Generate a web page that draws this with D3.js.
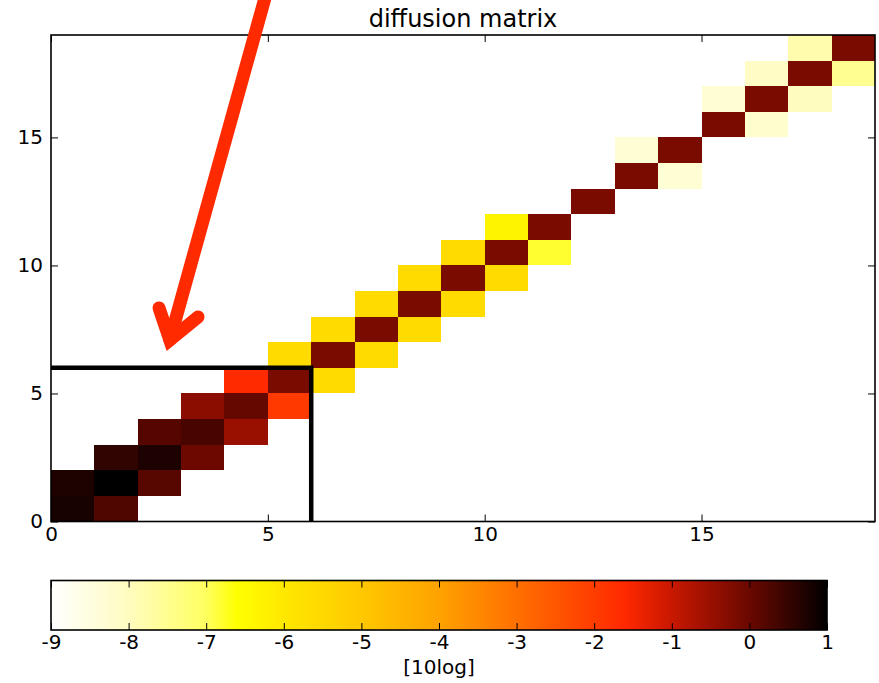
<!DOCTYPE html>
<html>
<head>
<meta charset="utf-8">
<script src="https://cdn.jsdelivr.net/npm/d3@7"></script>
<style>
    body { margin: 0; background: #fff; }
    svg text { font-family: "DejaVu Sans", sans-serif; fill: #000; }
</style>
</head>
<body>
<svg id="chart-svg"></svg>
<script>
// Datos (10log de la matriz tridiagonal).

// diagonal: fila i, columna i
const DIAGONAL = [0.77, 1.0, 0.74, 0.32, 0.05, -0.17, -0.17, -0.17, -0.17, -0.17,
                  -0.17, -0.17, -0.17, -0.17, -0.17, -0.17, -0.17, -0.17, -0.17];
// encima: fila i, columna i+1 (null = vacio)
const UPPER = [0.25, 0.18, -0.03, -0.5, -1.95, -5.6, -5.6, -5.6, -5.6, -5.6,
               -6.8, null, null, -8.3, null, -8.2, -8.0, -7.5];
// debajo: fila i+1, columna i
const LOWER = [0.72, 0.55, 0.2, -0.34, -1.65, -5.6, -5.6, -5.6, -5.6, -5.6,
               -6.3, null, null, -8.3, null, -8.3, -8.1, -7.8];

const N = 19;
const X_TICKS = [0, 5, 10, 15];
const Y_TICKS = [0, 5, 10, 15];
const CBAR_DOMAIN = [-9, 1];
const CBAR_TICKS = [-9, -8, -7, -6, -5, -4, -3, -2, -1, 0, 1];

const CMAP_STOPS = [-9, -8, -7, -6.6, -6, -5, -4, -3, -2, -1.6, -1, 0, 1];
const CMAP_COLORS = ["#ffffff", "#fffcc0", "#ffff60", "#ffff00", "#ffe800", "#ffc800",
                     "#ffa200", "#ff7000", "#ff3c00", "#ff2800", "#c81800", "#6a0800", "#000000"];

// Anotaciones (coordenadas de datos).
const BOX_EDGE = [[0, 6], [6, 6], [6, 0]];
const ARROW_SHAFT = [[4.96, 20.6], [2.74, 7.09]];
const ARROW_HEAD = [[2.49, 8.34], [2.74, 7.09], [3.39, 7.99]];

// Configuracion.
const WIDTH = 879;
const HEIGHT = 683;
const PLOT = { left: 51, right: 875, top: 35, bottom: 521.5 };
const CBAR = { left: 51, right: 827, top: 580.5, bottom: 630 };
const TICK = 7;

const svg = d3.select('svg#chart-svg')
                .attr('width', WIDTH)
                .attr('height', HEIGHT);

const x = d3.scaleLinear().domain([0, N]).range([PLOT.left, PLOT.right]);
const y = d3.scaleLinear().domain([0, N]).range([PLOT.bottom, PLOT.top]);

const color = d3.scaleLinear()
                .domain(CMAP_STOPS)
                .range(CMAP_COLORS)
                .interpolate(d3.interpolateRgb)
                .clamp(true);

// Celdas.
const cells = [];
DIAGONAL.forEach((v, i) => cells.push({ row: i, col: i, value: v }));
UPPER.forEach((v, i) => { if (v !== null) cells.push({ row: i, col: i + 1, value: v }); });
LOWER.forEach((v, i) => { if (v !== null) cells.push({ row: i + 1, col: i, value: v }); });

svg.append('defs')
    .append('clipPath')
        .attr('id', 'plot-clip')
    .append('rect')
        .attr('x', PLOT.left)
        .attr('y', PLOT.top)
        .attr('width', PLOT.right - PLOT.left)
        .attr('height', PLOT.bottom - PLOT.top);

const plot = svg.append('g').attr('id', 'plot');

plot.selectAll('rect.cell')
    .data(cells)
    .join('rect')
        .attr('class', 'cell')
        .attr('x', d => x(d.col))
        .attr('y', d => y(d.row + 1))
        .attr('width', d => x(d.col + 1) - x(d.col))
        .attr('height', d => y(d.row) - y(d.row + 1))
        .attr('fill', d => color(d.value))
        .attr('shape-rendering', 'crispEdges');

const line = d3.line().x(d => x(d[0])).y(d => y(d[1]));

// Recuadro negro (solo lados superior y derecho visibles).
plot.append('path')
    .attr('clip-path', 'url(#plot-clip)')
    .attr('d', line(BOX_EDGE))
    .attr('fill', 'none')
    .attr('stroke', '#000')
    .attr('stroke-width', 4.5)
    .attr('stroke-linejoin', 'miter');

// Ejes.
const styleAxis = (g) => {
    g.select('.domain').remove();
    g.selectAll('.tick line').attr('stroke', '#000').attr('stroke-width', 1);
    g.selectAll('.tick text').attr('font-size', 20).attr('fill', '#000');
};

svg.append('g')
    .attr('transform', `translate(0, ${PLOT.bottom})`)
    .call(d3.axisBottom(x).tickValues(X_TICKS).tickSize(-TICK).tickPadding(5))
    .call(styleAxis);

svg.append('g')
    .attr('transform', `translate(0, ${PLOT.top})`)
    .call(d3.axisTop(x).tickValues(X_TICKS).tickSize(-TICK).tickFormat(''))
    .call(styleAxis);

svg.append('g')
    .attr('transform', `translate(${PLOT.left}, 0)`)
    .call(d3.axisLeft(y).tickValues(Y_TICKS).tickSize(-TICK).tickPadding(8))
    .call(styleAxis);

svg.append('g')
    .attr('transform', `translate(${PLOT.right}, 0)`)
    .call(d3.axisRight(y).tickValues(Y_TICKS).tickSize(-TICK).tickFormat(''))
    .call(styleAxis);

svg.append('rect')
    .attr('x', PLOT.left)
    .attr('y', PLOT.top)
    .attr('width', PLOT.right - PLOT.left)
    .attr('height', PLOT.bottom - PLOT.top)
    .attr('fill', 'none')
    .attr('stroke', '#000')
    .attr('stroke-width', 1.6);

svg.append('text')
    .attr('x', (PLOT.left + PLOT.right) / 2)
    .attr('y', 27)
    .attr('text-anchor', 'middle')
    .attr('font-size', 24)
    .text('diffusion matrix');

// Flecha roja.
svg.append('path')
    .attr('d', line(ARROW_SHAFT))
    .attr('fill', 'none')
    .attr('stroke', '#ff2a00')
    .attr('stroke-width', 13)
    .attr('stroke-linecap', 'round');

svg.append('path')
    .attr('d', line(ARROW_HEAD))
    .attr('fill', 'none')
    .attr('stroke', '#ff2a00')
    .attr('stroke-width', 13)
    .attr('stroke-linecap', 'round')
    .attr('stroke-linejoin', 'miter')
    .attr('stroke-miterlimit', 10);

// Barra de colores.
const cx = d3.scaleLinear().domain(CBAR_DOMAIN).range([CBAR.left, CBAR.right]);

const grad = svg.select('defs')
                .append('linearGradient')
                    .attr('id', 'cbar-grad')
                    .attr('x1', '0%').attr('x2', '100%')
                    .attr('y1', '0%').attr('y2', '0%');

grad.selectAll('stop')
    .data(CMAP_STOPS)
    .join('stop')
        .attr('offset', d => (d - CBAR_DOMAIN[0]) / (CBAR_DOMAIN[1] - CBAR_DOMAIN[0]))
        .attr('stop-color', d => color(d));

svg.append('rect')
    .attr('x', CBAR.left)
    .attr('y', CBAR.top)
    .attr('width', CBAR.right - CBAR.left)
    .attr('height', CBAR.bottom - CBAR.top)
    .attr('fill', 'url(#cbar-grad)');

svg.append('g')
    .attr('transform', `translate(0, ${CBAR.bottom})`)
    .call(d3.axisBottom(cx).tickValues(CBAR_TICKS).tickSize(-TICK).tickPadding(5)
            .tickFormat(d => `${d}`))
    .call(styleAxis);

svg.append('g')
    .attr('transform', `translate(0, ${CBAR.top})`)
    .call(d3.axisTop(cx).tickValues(CBAR_TICKS).tickSize(-TICK).tickFormat(''))
    .call(styleAxis);

svg.append('rect')
    .attr('x', CBAR.left)
    .attr('y', CBAR.top)
    .attr('width', CBAR.right - CBAR.left)
    .attr('height', CBAR.bottom - CBAR.top)
    .attr('fill', 'none')
    .attr('stroke', '#000')
    .attr('stroke-width', 1.6);

svg.append('text')
    .attr('x', (CBAR.left + CBAR.right) / 2)
    .attr('y', 674)
    .attr('text-anchor', 'middle')
    .attr('font-size', 20)
    .text('[10log]');
</script>
</body>
</html>
